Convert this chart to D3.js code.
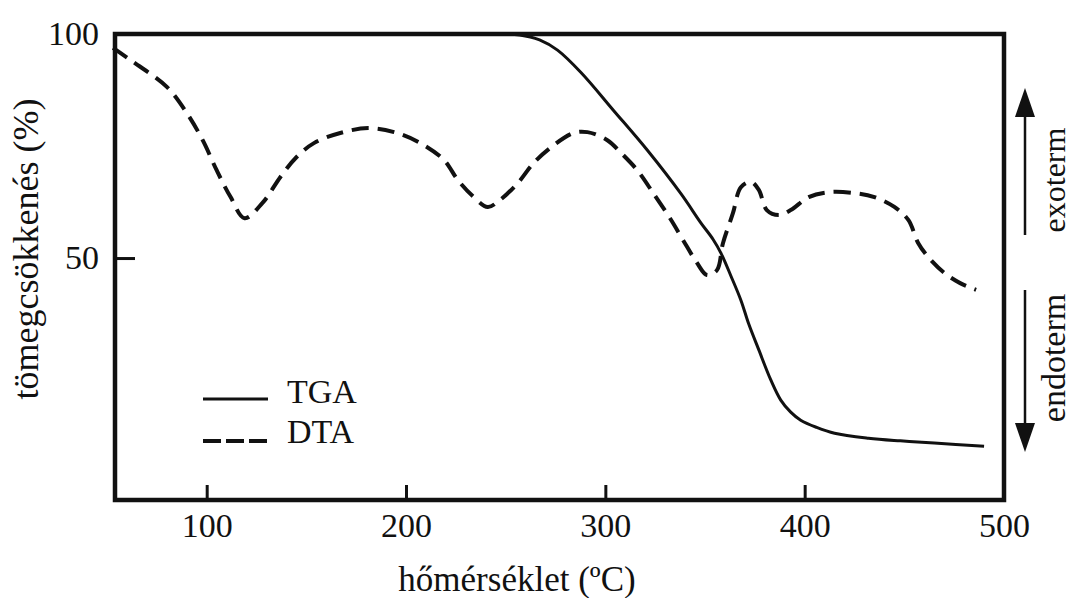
<html>
<head>
  <meta charset="utf-8">
  <title>TGA / DTA</title>
  <style>
    body { margin: 0; background: #fff; }
    text { font-family: "Liberation Serif", "DejaVu Serif", serif; fill: #111; }
  </style>
</head>
<body>
  <script src="https://d3js.org/d3.v7.min.js"></script>
  <script>
    // hőmérséklet (°C) és tömegcsökkenés (%) értékek
    var tgaTemp = [212, 240, 257, 267, 276, 288, 304, 321, 338, 348, 354, 358, 363, 368, 372, 377, 383, 388, 393, 398, 406, 415, 432, 448, 465, 490]
    var tgaMass = [100, 100, 99.8, 98.7, 96.4, 91.3, 83.0, 74.1, 64.3, 57.8, 54.2, 51.1, 46.0, 40.6, 35.2, 29.5, 22.8, 18.3, 15.6, 13.8, 12.2, 10.9, 9.8, 9.2, 8.7, 8.0]

    var dtaTemp = [53, 63, 80, 90, 98, 105, 112, 119, 128, 137, 145, 154, 167, 181, 194, 207, 219, 226, 234, 241, 247, 256, 264, 273, 284, 291, 301, 308, 316, 324, 333, 339, 346, 351, 356, 359, 364, 368, 373, 377, 381, 387, 393, 402, 412, 425, 435, 445, 452, 457, 462, 470, 478, 486]
    var dtaVal = [96.9, 93.8, 88.2, 82.4, 76.3, 69.6, 63.6, 58.9, 62.3, 68.1, 72.5, 75.7, 77.9, 79.0, 78.1, 75.7, 71.9, 67.4, 63.6, 61.4, 62.9, 66.7, 71.2, 74.8, 77.9, 78.1, 76.3, 73.4, 69.6, 64.5, 58.5, 54.0, 48.9, 46.2, 47.3, 53.3, 60.0, 65.8, 67.0, 65.2, 60.7, 59.6, 60.7, 63.6, 64.7, 64.5, 63.6, 61.4, 58.5, 53.3, 50.2, 46.7, 44.4, 42.9]

    var xTicks = [100, 200, 300, 400, 500]
    var yTicks = [50, 100]
    var seriesNames = ["TGA", "DTA"]

    var width = 1072, height = 598
    var svg = d3.select("body").append("svg")
      .attr("width", width)
      .attr("height", height)

    var x = d3.scaleLinear().domain([54, 500]).range([115, 1004])
    var y = d3.scaleLinear().domain([-4, 100]).range([500, 34])

    // tengelyek (befelé mutató osztások)
    var xAxis = svg.append("g")
      .attr("transform", "translate(0," + y(-4) + ")")
      .call(d3.axisBottom(x).tickValues(xTicks).tickSizeInner(-15).tickSizeOuter(0).tickPadding(13))
    xAxis.select(".domain").remove()
    xAxis.selectAll("line").attr("stroke", "#111").attr("stroke-width", 3)
    xAxis.selectAll("text").attr("font-size", 34).attr("fill", "#111")

    var yAxis = svg.append("g")
      .attr("transform", "translate(" + x(54) + ",0)")
      .call(d3.axisLeft(y).tickValues(yTicks).tickSizeInner(-20).tickSizeOuter(0).tickPadding(16))
    yAxis.select(".domain").remove()
    yAxis.selectAll("line").attr("stroke", "#111").attr("stroke-width", 3)
    yAxis.selectAll("text").attr("font-size", 34).attr("fill", "#111")

    // keret
    svg.append("rect")
      .attr("x", x(54)).attr("y", y(100))
      .attr("width", x(500) - x(54)).attr("height", y(-4) - y(100))
      .attr("fill", "none").attr("stroke", "#111").attr("stroke-width", 4.5)

    var line = d3.line()
      .x(d => x(d[0]))
      .y(d => y(d[1]))
      .curve(d3.curveCatmullRom.alpha(0.5))

    svg.append("path")
      .datum(d3.zip(tgaTemp, tgaMass))
      .attr("d", line)
      .attr("fill", "none")
      .attr("stroke", "#111")
      .attr("stroke-width", 3)

    svg.append("path")
      .datum(d3.zip(dtaTemp, dtaVal))
      .attr("d", line)
      .attr("fill", "none")
      .attr("stroke", "#111")
      .attr("stroke-width", 4)
      .attr("stroke-dasharray", "17,9")

    // jelmagyarázat
    var legend = svg.append("g")
    legend.selectAll("line")
      .data(seriesNames)
      .enter().append("line")
      .attr("x1", 203).attr("x2", 268)
      .attr("y1", (d, i) => 399 + i * 42)
      .attr("y2", (d, i) => 399 + i * 42)
      .attr("stroke", "#111")
      .attr("stroke-width", (d, i) => i == 0 ? 3 : 4)
      .attr("stroke-dasharray", (d, i) => i == 0 ? null : "18,5")
    legend.selectAll("text")
      .data(seriesNames)
      .enter().append("text")
      .attr("x", 287)
      .attr("y", (d, i) => 403 + i * 40)
      .attr("font-size", 34)
      .text(d => d)

    // tengelyfeliratok
    svg.append("text")
      .attr("x", 517).attr("y", 591)
      .attr("text-anchor", "middle")
      .attr("font-size", 35)
      .text("hőmérséklet (ºC)")

    svg.append("text")
      .attr("transform", "translate(38,249) rotate(-90)")
      .attr("text-anchor", "middle")
      .attr("font-size", 36)
      .text("tömegcsökkenés (%)")

    // exoterm / endoterm nyilak
    var ax = 1025
    svg.append("line").attr("x1", ax).attr("x2", ax).attr("y1", 235).attr("y2", 112)
      .attr("stroke", "#111").attr("stroke-width", 2.5)
    svg.append("path").attr("d", `M${ax},88 L${ax - 10},117 L${ax + 10},117 Z`).attr("fill", "#111")
    svg.append("line").attr("x1", ax).attr("x2", ax).attr("y1", 290).attr("y2", 428)
      .attr("stroke", "#111").attr("stroke-width", 2.5)
    svg.append("path").attr("d", `M${ax},452 L${ax - 10},423 L${ax + 10},423 Z`).attr("fill", "#111")

    svg.append("text")
      .attr("transform", "translate(1065,180) rotate(-90)")
      .attr("text-anchor", "middle")
      .attr("font-size", 32)
      .text("exoterm")
    svg.append("text")
      .attr("transform", "translate(1065,358) rotate(-90)")
      .attr("text-anchor", "middle")
      .attr("font-size", 34)
      .text("endoterm")
  </script>
</body>
</html>
